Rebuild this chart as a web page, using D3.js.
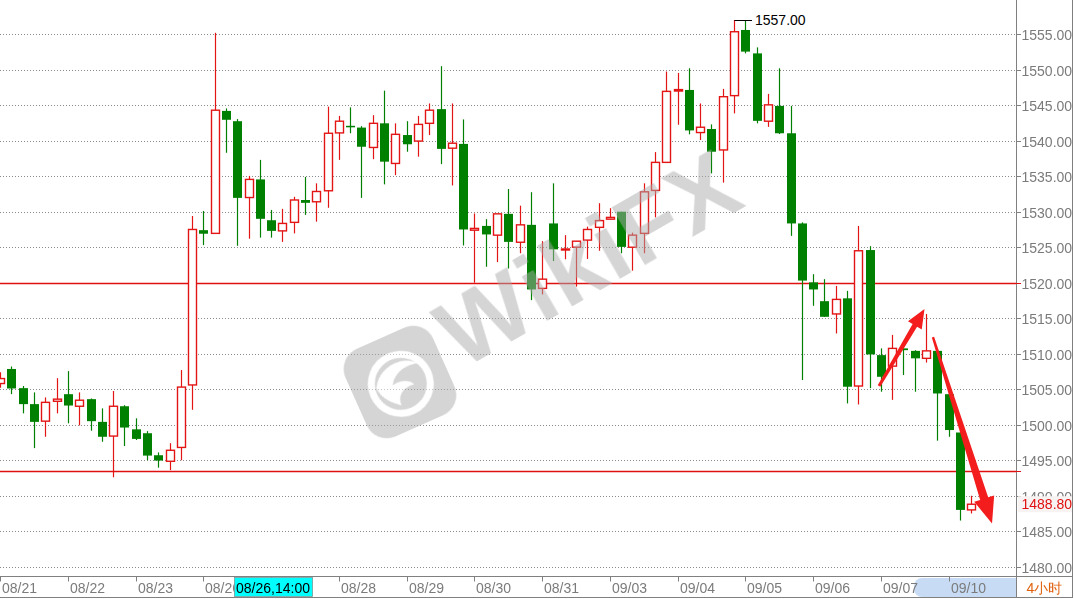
<!DOCTYPE html>
<html><head><meta charset="utf-8">
<script src="https://cdn.jsdelivr.net/npm/d3@7"></script>
<style>
body{margin:0;background:#fff;overflow:hidden}
svg{display:block}
text{font-family:"Liberation Sans",Arial,sans-serif}
</style>
</head><body>
<svg id="chart" width="1074" height="599"></svg>
<script>
// ---- data ----
const dayLabels = ["08/21","08/22","08/23","08/26","08/27","08/28","08/29","08/30","08/31","09/03","09/04","09/05","09/06","09/07","09/10"];
const opens  = [1505.8,1507.85,1505.15,1502.9,1500.5,1503.3,1504.3,1502.6,1503.6,1500.4,1498.4,1502.6,1499.35,1498.8,1495.7,1494.85,1496.8,1505.6,
  1527.4,1526.95,1544.2,1542.75,1532.0,1534.55,1528.8,1527.3,1528.5,1531.65,1531.4,1532.95,1541.1,1542.1,1541.85,1539.05,1542.45,1536.8,1540.8,1539.95,1542.45,1544.45,1538.95,1539.55,
  1527.4,1528.0,1526.7,1529.7,1525.7,1528.15,1519.2,1528.35,1524.65,1525.0,1526.0,1527.8,1528.95,1530.0,1525.0,1526.95,1533.0,1536.95,1547.0,1547.15,1541.15,1541.65,1538.7,1546.35,
  1555.6,1552.3,1542.75,1544.9,1541.05,1528.35,1520.05,1517.4,1515.6,1517.8,1505.45,1524.6,1509.8,1508.25,1510.75,1510.4,1509.35,1510.4,1504.3,1498.9,1488.0];
const highs  = [1507.4,1508.2,1505.45,1504.55,1503.85,1506.55,1507.55,1504.55,1503.7,1502.3,1504.75,1502.75,1500.9,1499.1,1496.1,1497.4,1507.7,1529.4,
  1530.1,1555.2,1544.55,1543.05,1535.05,1537.3,1530.25,1530.4,1532.1,1534.9,1534.0,1544.8,1543.5,1544.7,1542.05,1543.6,1547.05,1542.45,1542.75,1543.5,1545.25,1550.5,1545.25,1543.0,
  1529.75,1528.95,1529.7,1533.2,1530.85,1532.75,1525.85,1534.0,1526.7,1525.85,1527.9,1531.2,1530.5,1530.0,1527.05,1534.0,1538.4,1549.75,1549.55,1550.2,1545.25,1542.3,1547.3,1557.0,
  1556.9,1553.15,1546.6,1550.2,1544.9,1528.5,1521.2,1520.5,1519.55,1518.85,1528.0,1525.15,1510.75,1512.65,1510.75,1510.5,1515.6,1510.6,1504.4,1499.0,1490.0];
const lows   = [1505.2,1504.3,1501.6,1496.7,1498.3,1501.6,1500.2,1499.9,1499.15,1497.6,1492.6,1497.0,1497.85,1495.0,1493.95,1493.6,1495.0,1502.1,
  1525.3,1526.9,1538.3,1525.2,1526.2,1526.35,1526.35,1525.75,1526.95,1529.55,1528.6,1530.55,1537.3,1541.05,1531.95,1537.4,1533.85,1535.15,1538.45,1537.75,1540.8,1536.7,1533.7,1525.25,
  1520.0,1522.25,1522.9,1522.0,1524.15,1517.55,1518.35,1523.05,1523.3,1519.45,1523.35,1524.5,1528.95,1524.15,1521.7,1524.15,1529.2,1536.95,1542.25,1540.9,1540.1,1535.4,1534.1,1543.85,
  1552.3,1542.45,1541.95,1540.95,1526.6,1506.3,1516.75,1515.2,1512.85,1503.0,1502.85,1505.15,1504.65,1503.5,1507.0,1504.65,1508.75,1497.75,1498.3,1486.5,1487.5];
const closes = [1506.5,1505.1,1502.9,1500.4,1503.15,1503.6,1502.7,1503.45,1500.5,1498.3,1502.6,1499.6,1498.0,1495.65,1494.95,1496.4,1505.3,1527.5,
  1526.9,1544.3,1542.95,1531.95,1534.55,1529.0,1527.3,1528.35,1531.65,1531.25,1532.85,1541.05,1542.75,1541.9,1539.15,1542.45,1537.05,1540.9,1539.5,1542.3,1544.3,1538.85,1539.65,1527.5,
  1527.65,1526.8,1529.7,1525.75,1528.15,1519.05,1520.5,1524.7,1524.75,1525.85,1527.5,1528.75,1529.2,1525.05,1526.7,1532.8,1536.95,1546.95,1547.2,1541.45,1541.9,1538.45,1546.2,1555.35,
  1552.55,1542.8,1545.05,1541.05,1528.35,1520.3,1519.05,1515.2,1517.65,1505.35,1524.5,1509.9,1506.75,1510.75,1510.5,1509.35,1510.4,1504.4,1499.25,1488.0,1488.8];
const candlesPerDay = 6;
const yTicks = [1480,1485,1490,1495,1500,1505,1510,1515,1520,1525,1530,1535,1540,1545,1550,1555];
const supportLevels = [1520, 1493.5];
const lastPrice = 1488.80;
const hoverLabel = "08/26,14:00";
const periodLabel = "4小时";
const arrows = [
  {from:[77.84,1505.45], to:[81.87,1516.3], w0:1.5, w1:2.6, hl:19, hw:8},
  {from:[82.62,1512.35], to:[87.85,1486.1], w0:1.2, w1:4.2, hl:26, hw:10.5}
];

// ---- layout ----
const plotR = 1016, axisY = 576.5;
const svg = d3.select("#chart");
const x = d3.scaleLinear().domain([0, 90]).range([0.2, 0.2 + 90*11.29]);
const y = d3.scaleLinear().domain([1478.55, 1559.82]).range([577, 0]);
const RED = "#e31414", GREEN = "#008000", GRID = "#8a8a8a", AX = "#808080", LBL = "#7b7b7b";

const data = opens.map((o,i)=>({i, o, h:highs[i], l:lows[i], c:closes[i],
  day: dayLabels[Math.floor(i/candlesPerDay)]}));

// gridlines
svg.append("g").selectAll("line").data(yTicks).join("line")
  .attr("x1",0).attr("x2",plotR)
  .attr("y1",d=>Math.round(y(d))+0.5).attr("y2",d=>Math.round(y(d))+0.5)
  .attr("stroke",GRID).attr("stroke-width",1).attr("stroke-dasharray","1,2");

// support lines
svg.append("g").attr("class","support").selectAll("line").data(supportLevels).join("line")
  .attr("x1",0).attr("x2",plotR)
  .attr("y1",d=>Math.round(y(d))+0.5).attr("y2",d=>Math.round(y(d))+0.5)
  .style("stroke","rgb(222,16,16)").style("stroke-width","1.3px");

// candles
const cg = svg.append("g");
data.forEach(d=>{
  const cx = Math.round(x(d.i));
  const up = d.c >= d.o;
  const col = up ? RED : GREEN;
  cg.append("line").attr("x1",cx+0.5).attr("x2",cx+0.5)
    .attr("y1",y(d.h)).attr("y2",y(d.l)).attr("stroke",col).attr("stroke-width",1.2);
  const top = y(Math.max(d.o,d.c)), bot = y(Math.min(d.o,d.c));
  if (up) {
    cg.append("rect").attr("x",cx-3.5).attr("y",top).attr("width",8)
      .attr("height",Math.max(1,bot-top)).attr("fill","#fff")
      .attr("stroke",col).attr("stroke-width",1.4);
  } else {
    cg.append("rect").attr("x",cx-4).attr("y",top).attr("width",9)
      .attr("height",Math.max(1.5,bot-top)).attr("fill",col);
  }
});

// max label
const maxD = data.reduce((a,b)=>b.h>a.h?b:a);
const mx = Math.round(x(maxD.i))+0.5, my = Math.round(y(maxD.h))+0.5;
svg.append("line").attr("x1",mx).attr("x2",mx+17.5).attr("y1",my).attr("y2",my)
  .attr("stroke","#000").attr("stroke-width",1);
svg.append("text").attr("x",mx+20.5).attr("y",my).attr("dy","0.35em")
  .attr("font-size",14).attr("fill","#000").text(maxD.h.toFixed(2));

// watermark
const wm = svg.append("g").attr("opacity",0.5).attr("pointer-events","none");
const logo = wm.append("g").attr("transform","translate(400,382) rotate(-24)");
logo.append("rect").attr("x",-48).attr("y",-48).attr("width",96).attr("height",96)
  .attr("rx",22).attr("fill","#ababab");
logo.append("circle").attr("cx",0).attr("cy",2).attr("r",33).attr("fill","#fff");
logo.append("circle").attr("cx",0).attr("cy",2).attr("r",26).attr("fill","#ababab");
logo.append("path").attr("d","M-24,-4 C-14,-22 12,-24 24,-10 C10,-14 -2,-10 -8,0 C2,-2 10,2 12,8 C0,6 -8,12 -8,22 C-18,14 -24,6 -24,-4Z")
  .attr("fill","#fff");
wm.append("text").attr("transform","translate(462,370) rotate(-30)")
  .attr("font-size",96).attr("font-weight","bold").attr("fill","#ababab")
  .attr("font-family","Arial,'Liberation Sans',sans-serif").attr("letter-spacing",2)
  .text("WikiFX");

// arrows
arrows.forEach(a=>{
  const x0=x(a.from[0]), y0=y(a.from[1]), x1=x(a.to[0]), y1=y(a.to[1]);
  const len=Math.hypot(x1-x0,y1-y0), ux=(x1-x0)/len, uy=(y1-y0)/len, nx=-uy, ny=ux;
  const bx=x1-ux*a.hl, by=y1-uy*a.hl;
  const pts=[[x0+nx*a.w0,y0+ny*a.w0],[bx+nx*a.w1,by+ny*a.w1],[bx+nx*a.hw,by+ny*a.hw],[x1,y1],
    [bx-nx*a.hw,by-ny*a.hw],[bx-nx*a.w1,by-ny*a.w1],[x0-nx*a.w0,y0-ny*a.w0]];
  svg.append("polygon").attr("points",pts.map(p=>p.join(",")).join(" "))
    .attr("fill","#f41d1d");
});

// right axis
svg.append("line").attr("x1",plotR+0.5).attr("x2",plotR+0.5).attr("y1",0).attr("y2",597)
  .attr("stroke",AX).attr("stroke-width",1);
svg.append("line").attr("x1",1072.5).attr("x2",1072.5).attr("y1",0).attr("y2",597)
  .attr("stroke",AX).attr("stroke-width",1);
const ya = svg.append("g");
yTicks.forEach(v=>{
  const yy=Math.round(y(v))+0.5;
  ya.append("line").attr("x1",plotR).attr("x2",plotR+5).attr("y1",yy).attr("y2",yy).attr("stroke",AX);
  ya.append("text").attr("x",1021.5).attr("y",yy).attr("dy","0.36em")
    .attr("font-size",14).attr("fill",LBL).text(v.toFixed(2));
});
// support ticks on axis
supportLevels.forEach(v=>{
  const yy=Math.round(y(v))+0.5;
  svg.append("line").attr("x1",plotR).attr("x2",plotR+5).attr("y1",yy).attr("y2",yy)
    .style("stroke","rgb(222,16,16)");
});
// last price label
const ly = y(lastPrice);
svg.append("rect").attr("x",1018).attr("y",ly-8).attr("width",54).attr("height",16).attr("fill","#f7f3f3");
svg.append("text").attr("x",1021.5).attr("y",ly).attr("dy","0.36em")
  .attr("font-size",14).attr("fill","#e01010").text(lastPrice.toFixed(2));

// bottom axis
svg.append("line").attr("x1",0).attr("x2",1073).attr("y1",axisY).attr("y2",axisY).attr("stroke",AX);
svg.append("line").attr("x1",0).attr("x2",1073).attr("y1",597.5).attr("y2",597.5).attr("stroke",AX);
svg.append("rect").attr("x",914).attr("y",578).attr("width",101).attr("height",19).attr("rx",8)
  .attr("fill","#c7dcf4");
svg.append("rect").attr("x",1006).attr("y",578).attr("width",10).attr("height",19).attr("fill","#c7dcf4");
const xa = svg.append("g");
dayLabels.forEach((lab,k)=>{
  const xx = Math.round(x(k*candlesPerDay))+0.5;
  xa.append("line").attr("x1",xx).attr("x2",xx).attr("y1",axisY).attr("y2",axisY+5).attr("stroke",AX);
  xa.append("text").attr("x",xx+1.5).attr("y",587.5).attr("dy","0.36em")
    .attr("font-size",14).attr("fill",LBL).text(lab);
});
// hover label
svg.append("rect").attr("x",234.5).attr("y",577.5).attr("width",78).attr("height",19)
  .attr("fill","#00ffff").attr("stroke","#7a9a9a").attr("stroke-width",0.8);
svg.append("text").attr("x",236).attr("y",587.5).attr("dy","0.36em")
  .attr("font-size",14).attr("fill","#000").text(hoverLabel);
svg.append("text").attr("x",1044.5).attr("y",587.5).attr("dy","0.36em").attr("text-anchor","middle")
  .attr("font-size",14).attr("fill","#e0600c")
  .attr("font-family","'Noto Sans CJK SC','Liberation Sans',sans-serif").text(periodLabel);
</script>
</body></html>
